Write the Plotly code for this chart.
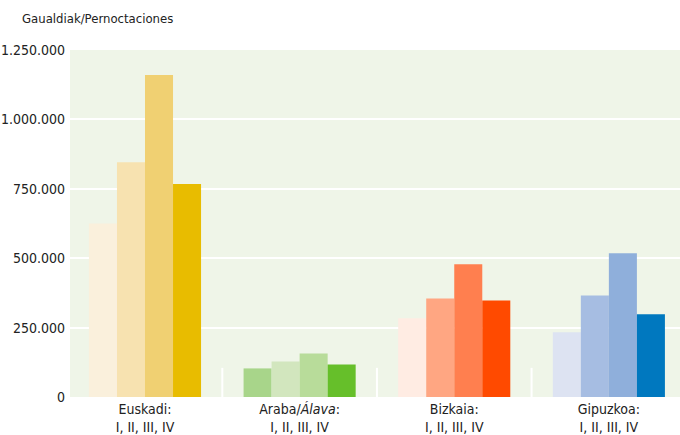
import plotly.graph_objects as go

categories = ["Euskadi", "Araba/Álava", "Bizkaia", "Gipuzkoa"]
tick_labels = [
    "Euskadi:<br>I, II, III, IV",
    "Araba/<i>Álava</i>:<br>I, II, III, IV",
    "Bizkaia:<br>I, II, III, IV",
    "Gipuzkoa:<br>I, II, III, IV",
]
quarters = ["I", "II", "III", "IV"]
q1 = [625000, 103000, 284000, 233000]
q2 = [846000, 128000, 355000, 366000]
q3 = [1160000, 157000, 478000, 518000]
q4 = [767000, 117000, 348000, 298000]

colors_q1 = ["#FAF0DC", "#A8D58A", "#FFECE3", "#DDE3F2"]
colors_q2 = ["#F7E2B0", "#D2E6BE", "#FFA682", "#A6BDE2"]
colors_q3 = ["#F0D072", "#B8DC9A", "#FF7F4F", "#8FAFDB"]
colors_q4 = ["#E8BC00", "#66BF2A", "#FF4A00", "#0078BF"]

y_ticks = [0, 250000, 500000, 750000, 1000000, 1250000]
y_ticktext = ["0", "250.000", "500.000", "750.000", "1.000.000", "1.250.000"]

FONT = "DejaVu Sans Condensed, Liberation Sans Narrow, Arial Narrow, sans-serif"

fig = go.Figure()
xpos = list(range(len(categories)))
for name, vals, cols in zip(quarters, [q1, q2, q3, q4], [colors_q1, colors_q2, colors_q3, colors_q4]):
    fig.add_trace(go.Bar(x=xpos, y=vals, name=name, marker=dict(color=cols, line=dict(width=0)),
                         hovertemplate="%{y}<extra>" + name + "</extra>"))

for b in [0.5, 1.5, 2.5]:
    fig.add_shape(type="line", xref="x", yref="y", x0=b, x1=b, y0=0, y1=105000,
                  line=dict(color="white", width=2), layer="above")

fig.update_layout(
    width=680, height=435,
    margin=dict(l=70, r=0, t=50, b=38),
    paper_bgcolor="white",
    plot_bgcolor="#EFF5E8",
    barmode="group",
    bargap=0.275,
    bargroupgap=0,
    showlegend=False,
    font=dict(family=FONT, size=14, color="#222222"),
    xaxis=dict(
        range=[-0.485, 3.46],
        tickvals=xpos,
        ticktext=tick_labels,
        showgrid=False,
        zeroline=False,
        showline=False,
        ticks="",
        automargin=False,
        ticklabelstandoff=2,
        tickfont=dict(family=FONT, size=14, color="#222222"),
        fixedrange=True,
    ),
    yaxis=dict(
        range=[0, 1250000],
        tickvals=y_ticks,
        ticktext=y_ticktext,
        showgrid=True,
        gridcolor="white",
        gridwidth=2,
        zeroline=False,
        showline=False,
        ticks="",
        automargin=False,
        ticklabelstandoff=4,
        tickfont=dict(family=FONT, size=14, color="#222222"),
        fixedrange=True,
    ),
    annotations=[
        dict(text="Gaualdiak/Pernoctaciones", xref="paper", yref="paper", x=-0.082, y=1.0,
             xanchor="left", yanchor="bottom", yshift=22, showarrow=False,
             font=dict(family=FONT, size=13, color="#222222")),
    ],
)

fig.write_html("out.html", config={"displayModeBar": False},
               post_script="document.body.style.margin='0';document.body.style.padding='0';")
